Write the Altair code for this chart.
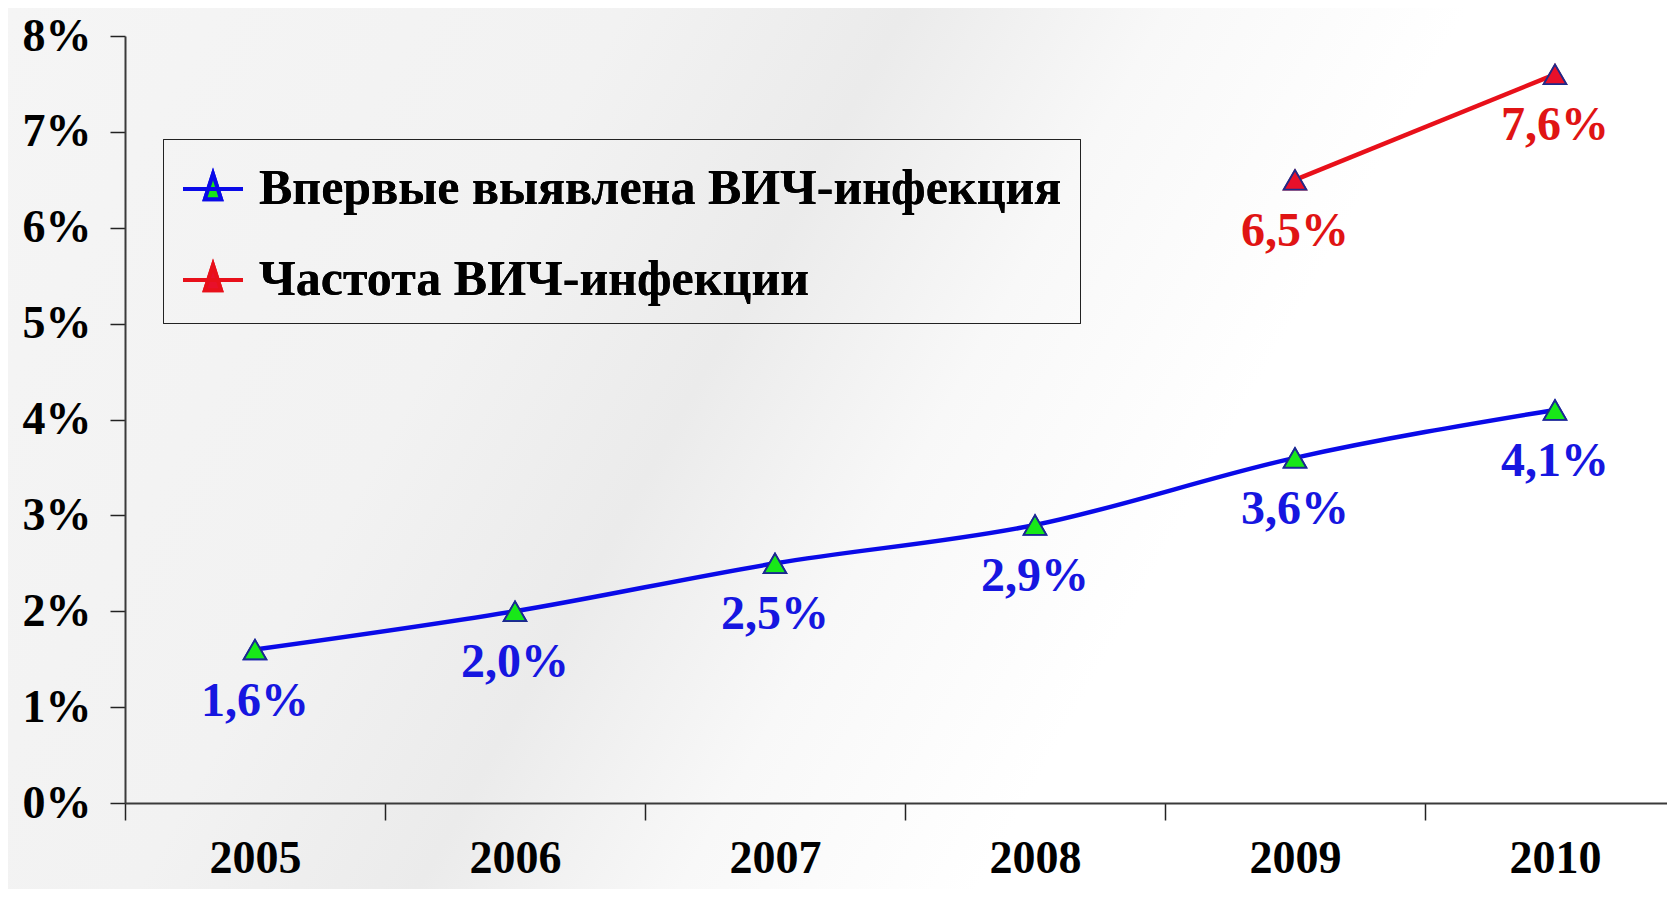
import altair as alt
import pandas as pd

years = ["2005", "2006", "2007", "2008", "2009", "2010"]
detected = [1.6, 2.0, 2.5, 2.9, 3.6, 4.1]
freq_years = ["2009", "2010"]
freq = [6.5, 7.6]
y_ticks = [0, 1, 2, 3, 4, 5, 6, 7, 8]
s1 = "Впервые выявлена ВИЧ-инфекция"
s2 = "Частота ВИЧ-инфекции"


def fmt(v):
    return f"{v:.1f}".replace(".", ",") + "%"


df = pd.DataFrame(
    [{"year": y, "value": v, "series": s1, "label": fmt(v)} for y, v in zip(years, detected)]
    + [{"year": y, "value": v, "series": s2, "label": fmt(v)} for y, v in zip(freq_years, freq)]
)

W = 1542
H = 767
FONT = "Liberation Serif"

xenc = alt.X(
    "year:O",
    scale=alt.Scale(type="band", domain=years, paddingInner=0, paddingOuter=0, range=[0, 1560]),
    bandPosition=0.5,
    axis=alt.Axis(
        title=None,
        tickBand="extent",
        labelAngle=0,
        labelFont=FONT,
        labelFontSize=46,
        labelFontWeight="bold",
        labelColor="black",
        labelPadding=16,
        tickSize=17,
        tickColor="#222222",
        tickWidth=1.5,
        domainColor="#3a3a3a",
        domainWidth=2,
        zindex=1,
    ),
)
yenc = alt.Y(
    "value:Q",
    scale=alt.Scale(domain=[0, 8], nice=False),
    axis=alt.Axis(
        title=None,
        values=y_ticks,
        labelExpr="datum.value + '%'",
        labelFont=FONT,
        labelFontSize=46,
        labelFontWeight="bold",
        labelColor="black",
        labelPadding=19,
        tickSize=15,
        tickColor="#222222",
        tickWidth=1.5,
        domainColor="#3a3a3a",
        domainWidth=2,
        grid=False,
        zindex=1,
    ),
)

series_domain = [s1, s2]
line_colors = ["#0a0ae8", "#e8101a"]
marker_fills = ["#18e818", "#e8102a"]
label_colors = ["#1616e0", "#e01414"]

legend = alt.Legend(
    title=None,
    orient="none",
    legendX=38,
    legendY=103,
    direction="vertical",
    labelFont=FONT,
    labelFontSize=50,
    labelFontWeight="bold",
    labelColor="black",
    labelLimit=1200,
    labelOffset=14,
    symbolType="M-1,0H1M0,-0.5L-0.27,0.34L0.27,0.34Z",
    symbolSize=3600,
    symbolStrokeWidth=4,
    symbolOpacity=1,
    rowPadding=34,
    padding=18,
    strokeColor="#222222",
    fillColor="transparent",
)

bg = alt.Chart(pd.DataFrame({"a": [0]})).mark_rect(
    color=alt.LinearGradient(
        gradient="linear",
        x1=0, y1=0, x2=1, y2=0.3,
        stops=[
            alt.GradientStop(color="#f5f5f5", offset=0),
            alt.GradientStop(color="#f2f2f2", offset=0.33),
            alt.GradientStop(color="#ebebeb", offset=0.48),
            alt.GradientStop(color="#f8f8f8", offset=0.62),
            alt.GradientStop(color="#ffffff", offset=0.78),
        ],
    )
).encode(
    x=alt.value(-117), x2=alt.value(1600), y=alt.value(-28), y2=alt.value(900)
)

base = alt.Chart(df)

lines = base.mark_line(strokeWidth=4.5, interpolate="monotone").encode(
    x=xenc,
    y=yenc,
    stroke=alt.Stroke(
        "series:N",
        scale=alt.Scale(domain=series_domain, range=line_colors),
        legend=legend,
    ),
    detail="series:N",
)

points = base.mark_point(
    shape="triangle-up", size=520, filled=True, opacity=1, strokeWidth=1.5
).encode(
    x=xenc,
    y=yenc,
    fill=alt.Fill(
        "series:N",
        scale=alt.Scale(domain=series_domain, range=marker_fills),
        legend=legend,
    ),
    stroke=alt.Stroke(
        "series:N",
        scale=alt.Scale(domain=series_domain, range=line_colors),
        legend=legend,
    ),
)

outlines = base.mark_point(
    shape="triangle-up", size=520, filled=False, opacity=1, stroke="#1c2a8c", strokeWidth=1.8
).encode(x=xenc, y=yenc)

labels = base.mark_text(
    font=FONT, fontSize=48, fontWeight="bold", dy=52, baseline="middle", align="center"
).encode(
    x=xenc,
    y=yenc,
    text="label:N",
    color=alt.Color(
        "series:N",
        scale=alt.Scale(domain=series_domain, range=label_colors),
        legend=None,
    ),
)

chart = (
    alt.layer(bg, lines, points, outlines, labels)
    .resolve_scale(stroke="independent", fill="independent", color="independent")
    .properties(
        width=W,
        height=H,
        autosize=alt.AutoSizeParams(type="none"),
        padding={"left": 117, "top": 28, "right": 0, "bottom": 86},
        background="#f5f5f5",
    )
    .configure_view(stroke=None)
)

chart.save("out.html", embed_options={"renderer": "svg", "actions": False})
